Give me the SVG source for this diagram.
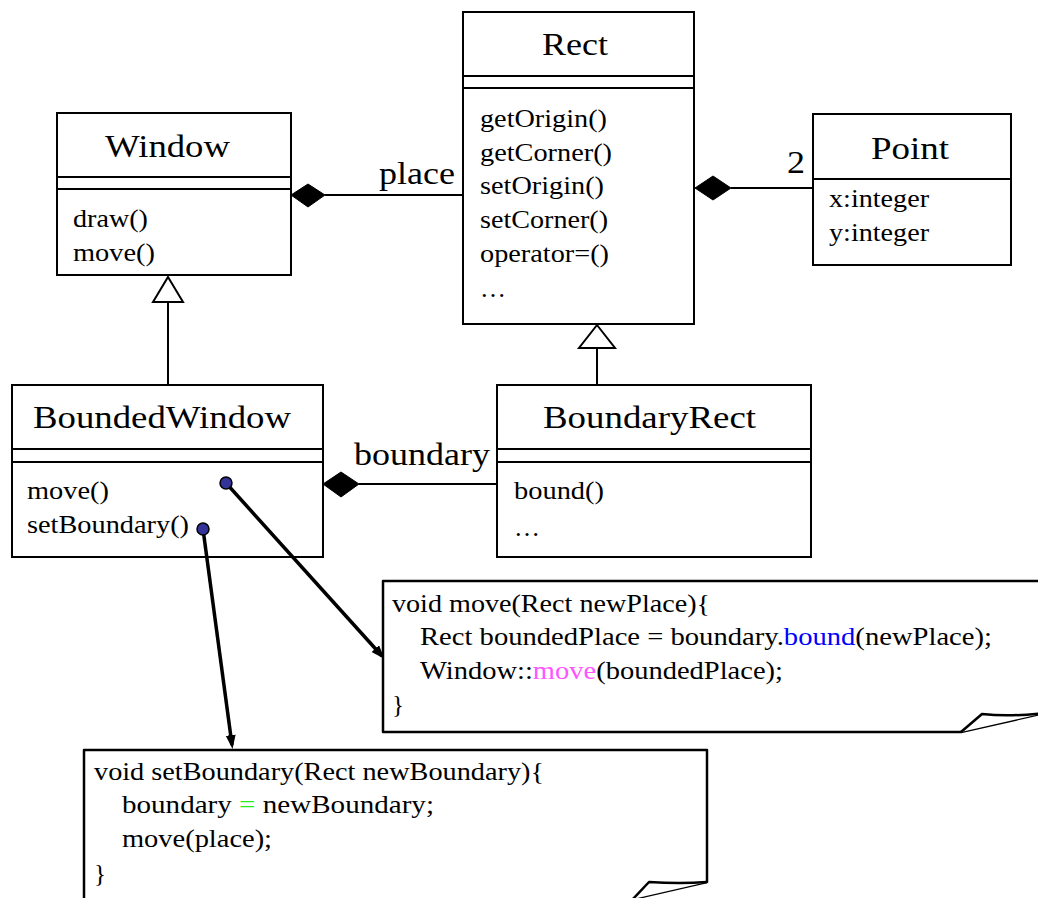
<svg xmlns="http://www.w3.org/2000/svg" width="1038" height="898" viewBox="0 0 1038 898">
<style>
  .box { fill: #fff; stroke: #000; stroke-width: 2; }
  .ln { stroke: #000; stroke-width: 2; fill: none; }
  .t { font-family: "Liberation Serif", "Times New Roman", serif; fill: #000; }
  .title { font-size: 32px; }
  .m { font-size: 25px; }
  .lbl { font-size: 32px; }
  .code { font-size: 25px; }
  .dia { fill: #000; stroke: #000; stroke-width: 1; }
  .tri { fill: #fff; stroke: #000; stroke-width: 2; }
  .arr { stroke: #000; stroke-width: 3.5; fill: none; marker-end: url(#ah); }
  .dot { fill: #333399; stroke: #000; stroke-width: 1.5; }
  .note { fill: #fff; stroke: #000; stroke-width: 2.5; stroke-linejoin: round; }
</style>
<defs>
  <marker id="ah" markerUnits="userSpaceOnUse" markerWidth="16" markerHeight="12" refX="10" refY="5" orient="auto">
    <path d="M0,0 L14,5 L0,10 z" fill="#000"/>
  </marker>
</defs>
<rect width="1038" height="898" fill="#fff"/>

<g id="Rect">
  <rect class="box" x="463" y="12" width="231" height="312"/>
  <line class="ln" x1="463" y1="76" x2="694" y2="76"/>
  <line class="ln" x1="463" y1="88" x2="694" y2="88"/>
  <text class="t title" x="542" y="55" textLength="66" lengthAdjust="spacingAndGlyphs">Rect</text>
  <text class="t m" x="480" y="127" textLength="127" lengthAdjust="spacingAndGlyphs">getOrigin()</text>
  <text class="t m" x="480" y="161" textLength="132" lengthAdjust="spacingAndGlyphs">getCorner()</text>
  <text class="t m" x="480" y="194" textLength="124" lengthAdjust="spacingAndGlyphs">setOrigin()</text>
  <text class="t m" x="480" y="228" textLength="128" lengthAdjust="spacingAndGlyphs">setCorner()</text>
  <text class="t m" x="480" y="262" textLength="129" lengthAdjust="spacingAndGlyphs">operator=()</text>
  <text class="t m" x="480" y="297" textLength="26" lengthAdjust="spacingAndGlyphs">…</text>
</g>

<g id="Window">
  <rect class="box" x="57" y="113" width="234" height="162"/>
  <line class="ln" x1="57" y1="177" x2="291" y2="177"/>
  <line class="ln" x1="57" y1="189" x2="291" y2="189"/>
  <text class="t title" x="105" y="157" textLength="125" lengthAdjust="spacingAndGlyphs">Window</text>
  <text class="t m" x="73" y="227" textLength="75" lengthAdjust="spacingAndGlyphs">draw()</text>
  <text class="t m" x="73" y="261" textLength="82" lengthAdjust="spacingAndGlyphs">move()</text>
</g>

<g id="Point">
  <rect class="box" x="813" y="114" width="198" height="151"/>
  <line class="ln" x1="813" y1="179" x2="1011" y2="179"/>
  <text class="t title" x="871" y="159" textLength="78" lengthAdjust="spacingAndGlyphs">Point</text>
  <text class="t m" x="829" y="207" textLength="100" lengthAdjust="spacingAndGlyphs">x:integer</text>
  <text class="t m" x="829" y="241" textLength="100" lengthAdjust="spacingAndGlyphs">y:integer</text>
</g>

<g id="BoundedWindow">
  <rect class="box" x="12" y="385" width="311" height="172"/>
  <line class="ln" x1="12" y1="449" x2="323" y2="449"/>
  <line class="ln" x1="12" y1="462" x2="323" y2="462"/>
  <text class="t title" x="33" y="428" textLength="258" lengthAdjust="spacingAndGlyphs">BoundedWindow</text>
  <text class="t m" x="27" y="499" textLength="82" lengthAdjust="spacingAndGlyphs">move()</text>
  <text class="t m" x="27" y="533" textLength="162" lengthAdjust="spacingAndGlyphs">setBoundary()</text>
</g>

<g id="BoundaryRect">
  <rect class="box" x="497" y="385" width="314" height="172"/>
  <line class="ln" x1="497" y1="449" x2="811" y2="449"/>
  <line class="ln" x1="497" y1="462" x2="811" y2="462"/>
  <text class="t title" x="543" y="428" textLength="213" lengthAdjust="spacingAndGlyphs">BoundaryRect</text>
  <text class="t m" x="514" y="499" textLength="90" lengthAdjust="spacingAndGlyphs">bound()</text>
  <text class="t m" x="514" y="536" textLength="26" lengthAdjust="spacingAndGlyphs">…</text>
</g>

<g id="connectors">
  <line class="ln" x1="325" y1="195" x2="463" y2="195"/>
  <polygon class="dia" points="291,195 308,184 325,195 308,207"/>
  <text class="t lbl" x="379" y="184" textLength="76" lengthAdjust="spacingAndGlyphs">place</text>

  <line class="ln" x1="731" y1="188" x2="813" y2="188"/>
  <polygon class="dia" points="695,188 713,176 731,188 713,200"/>
  <text class="t lbl" x="787" y="173" textLength="18" lengthAdjust="spacingAndGlyphs">2</text>

  <line class="ln" x1="359" y1="484" x2="497" y2="484"/>
  <polygon class="dia" points="323,484 341,472 359,484 341,497"/>
  <text class="t lbl" x="354" y="465" textLength="136" lengthAdjust="spacingAndGlyphs">boundary</text>

  <line class="ln" x1="168" y1="302" x2="168" y2="385"/>
  <polygon class="tri" points="168,277 183,302 153,302"/>

  <line class="ln" x1="597" y1="348" x2="597" y2="385"/>
  <polygon class="tri" points="597,325 615,348 579,348"/>

  <line class="arr" x1="226" y1="483" x2="382" y2="656"/>
  <line class="arr" x1="203" y1="529" x2="232" y2="745"/>
  <circle class="dot" cx="226" cy="483" r="6"/>
  <circle class="dot" cx="203" cy="529" r="6"/>
</g>

<g id="noteMove">
  <path class="note" d="M1045,581 L383,581 L383,732 L961,732 L1045,713"/>
  <path class="note" d="M961,732 L982,714 Q1010,717 1045,713"/>
  <text class="t code" x="392" y="612" textLength="318" lengthAdjust="spacingAndGlyphs">void move(Rect newPlace){</text>
  <text class="t code" x="420" y="645" textLength="572" lengthAdjust="spacingAndGlyphs">Rect boundedPlace = boundary.<tspan fill="#0000ff">bound</tspan>(newPlace);</text>
  <text class="t code" x="420" y="679" textLength="363" lengthAdjust="spacingAndGlyphs">Window::<tspan fill="#ff55ff">move</tspan>(boundedPlace);</text>
  <text class="t code" x="392" y="713">}</text>
</g>

<g id="noteSetBoundary">
  <path class="note" d="M84,905 L84,750 L707,750 L707,882 L633,899"/>
  <path class="note" d="M707,882 Q680,884 649,882 L633,899"/>
  <text class="t code" x="94" y="780" textLength="450" lengthAdjust="spacingAndGlyphs">void setBoundary(Rect newBoundary){</text>
  <text class="t code" x="122" y="813" textLength="312" lengthAdjust="spacingAndGlyphs">boundary <tspan fill="#22ee22">=</tspan> newBoundary;</text>
  <text class="t code" x="122" y="847" textLength="150" lengthAdjust="spacingAndGlyphs">move(place);</text>
  <text class="t code" x="94" y="882">}</text>
</g>
</svg>
